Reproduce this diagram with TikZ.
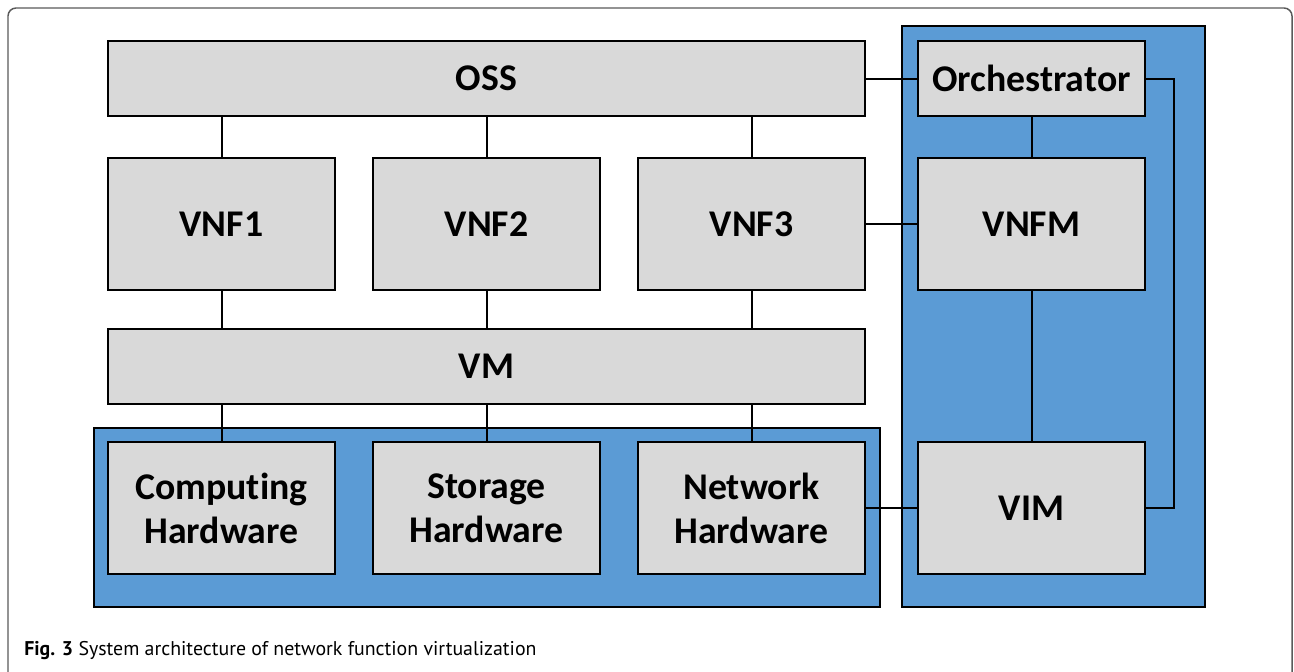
\documentclass[tikz,border=0pt]{standalone}
\usepackage{fontspec}
\setmainfont{Carlito}[Ligatures=NoCommon]
\newfontfamily\capfont{PT Sans}
\usetikzlibrary{fit}
\definecolor{boxgray}{HTML}{D9D9D9}
\definecolor{contblue}{HTML}{5B9BD5}
\definecolor{framegray}{HTML}{5A5A5A}
\tikzset{
  box/.style={draw=black, line width=1.4pt, fill=boxgray, inner sep=0pt},
  lbl/.style={align=center, inner sep=0pt, font=\fontsize{28.3}{33}\selectfont\bfseries},
  cont/.style={draw=black, line width=1.6pt, fill=contblue, inner sep=0pt},
  conn/.style={draw=black, line width=1.5pt},
}
\begin{document}
\begin{tikzpicture}[x=0.75pt,y=-0.75pt]
\useasboundingbox (0,0) rectangle (1294,671);
\fill[white] (0,0) rectangle (1294,671);
% frame
\draw[framegray, line width=1.1pt, rounded corners=6pt] (8,8) rectangle (1292,720);
% containers
\node[cont, fit={(94,428)(880,607)}] (hwc) {};
\node[cont, fit={(902,26)(1205,607)}] (mano) {};
% boxes
\node[box, fit={(108,41)(865,116)}] (oss) {};
\node[box, fit={(108,158)(335,290)}] (vnf1) {};
\node[box, fit={(373,158)(600,290)}] (vnf2) {};
\node[box, fit={(638,158)(865,290)}] (vnf3) {};
\node[box, fit={(108,329)(865,404)}] (vm) {};
\node[box, fit={(108,442)(335,574)}] (comp) {};
\node[box, fit={(373,442)(600,574)}] (stor) {};
\node[box, fit={(638,442)(865,574)}] (net) {};
\node[box, fit={(918,41)(1145,116)}] (orch) {};
\node[box, fit={(918,158)(1145,290)}] (vnfm) {};
\node[box, fit={(918,442)(1145,574)}] (vim) {};
% labels
\node[lbl] (toss) at (oss.center) {OSS};
\node[lbl] (tvnf1) at (vnf1.center) {VNF1};
\node[lbl] (tvnf2) at (vnf2.center) {VNF2};
\node[lbl] (tvnf3) at (vnf3.center) {VNF3};
\node[lbl] (tvm) at (vm.center) {VM};
\node[lbl] (tcomp) at (comp.center) {Computing\\Hardware};
\node[lbl] (tstor) at (stor.center) {Storage\\Hardware};
\node[lbl] (tnet) at (net.center) {Network\\Hardware};
\node[lbl] (torch) at (orch.center) {Orchestrator};
\node[lbl] (tvnfm) at (vnfm.center) {VNFM};
\node[lbl] (tvim) at (vim.center) {VIM};
% connectors
\foreach \v in {vnf1,vnf2,vnf3}{
  \draw[conn] (\v.north |- oss.south) -- (\v.north);
  \draw[conn] (\v.south) -- (\v.south |- vm.north);
}
\foreach \h in {comp,stor,net}{
  \draw[conn] (\h.north |- vm.south) -- (\h.north);
}
\draw[conn] (oss.east) -- (orch.west);
\draw[conn] (vnf3.east) -- (vnfm.west);
\draw[conn] (net.east) -- (vim.west);
\draw[conn] (orch.south) -- (vnfm.north);
\draw[conn] (vnfm.south) -- (vim.north);
\draw[conn] (orch.east) -- ++(28,0) coordinate (fb) |- (vim.east);
% caption
\node[anchor=base west, inner sep=0pt, font=\capfont\fontsize{14.9}{17}\selectfont] (cap) at (24,655)
  {\textbf{Fig. 3} System architecture of network function virtualization};
\end{tikzpicture}
\end{document}
